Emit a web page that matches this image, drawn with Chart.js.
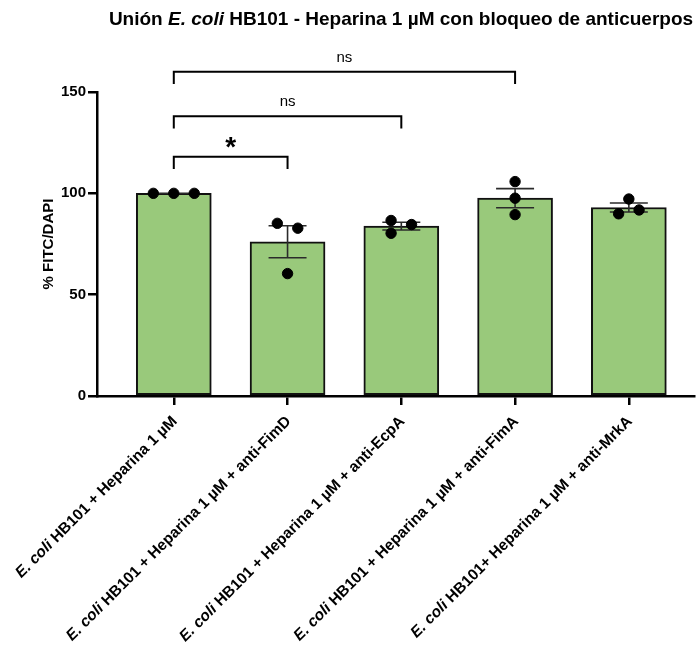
<!DOCTYPE html>
<html>
<head>
<meta charset="utf-8">
<script src="https://cdn.jsdelivr.net/npm/chart.js@4"></script>
<style>
  html, body { margin: 0; padding: 0; background: #fff; }
  #wrap { width: 700px; height: 651px; }
</style>
</head>
<body>
<div id="wrap"><canvas id="c" width="700" height="651"></canvas></div>
<script>
// Groups on the x axis
const categories = [
  "E. coli HB101 + Heparina 1 µM",
  "E. coli HB101 + Heparina 1 µM + anti-FimD",
  "E. coli HB101 + Heparina 1 µM + anti-EcpA",
  "E. coli HB101 + Heparina 1 µM + anti-FimA",
  "E. coli HB101+ Heparina 1 µM + anti-MrkA"
];
// Mean % FITC/DAPI per group and its SEM
const meanValues = [100, 76.1, 83.8, 97.6, 93.0];
const semValues = [0, 7.9, 1.9, 4.7, 2.2];
// Individual replicates per group
const replicates = [
  [100, 100, 100],
  [85.2, 82.8, 60.4],
  [86.6, 80.3, 84.6],
  [105.8, 97.6, 89.5],
  [97.2, 89.9, 91.8]
];
// Y axis tick values
const yTicks = [0, 50, 100, 150];
// Pairwise comparisons: [group A, group B, label]
const comparisons = [
  [0, 1, "*"],
  [0, 2, "ns"],
  [0, 3, "ns"]
];

// ---- layout / style settings ----
const FONT = "'Liberation Sans', Arial, Helvetica, sans-serif";
const BAR_GREEN = "#99c97b";
const dotSpread = [
  [-0.18, 0, 0.18],
  [-0.09, 0.09, 0],
  [-0.09, -0.09, 0.09],
  [0, 0, 0],
  [0, -0.09, 0.09]
];
const bracketLevels = [118, 138, 160];
const bracketDrop = 6;
const capHalf = 0.167;

const barData = meanValues.map((v, i) => ({ x: i, y: v }));
const dotData = [];
replicates.forEach((reps, i) => reps.forEach((v, j) => dotData.push({ x: i + dotSpread[i][j], y: v })));

function drawMixed(ctx, parts, x, y, align) {
  const widths = parts.map(p => { ctx.font = p.font; return ctx.measureText(p.text).width; });
  const total = widths.reduce((a, b) => a + b, 0);
  let cx = align === 'right' ? x - total : align === 'center' ? x - total / 2 : x;
  ctx.textAlign = 'left';
  parts.forEach((p, k) => { ctx.font = p.font; ctx.fillText(p.text, cx, y); cx += widths[k]; });
}

function splitItalic(label, size) {
  const key = "E. coli";
  if (label.startsWith(key)) {
    return [
      { text: key, font: `italic bold ${size}px ${FONT}` },
      { text: label.slice(key.length), font: `bold ${size}px ${FONT}` }
    ];
  }
  return [{ text: label, font: `bold ${size}px ${FONT}` }];
}

// Error bars drawn right after the bars (below the replicate dots)
const errorBarPlugin = {
  id: 'errorBars',
  afterDatasetDraw(chart, args) {
    if (args.index !== 1) return;
    const { ctx, scales: { x, y } } = chart;
    ctx.save();
    ctx.strokeStyle = '#2b2b2b';
    ctx.lineWidth = 1.6;
    meanValues.forEach((m, i) => {
      const hi = y.getPixelForValue(m + semValues[i]);
      const lo = y.getPixelForValue(m - semValues[i]);
      const cx = x.getPixelForValue(i);
      const l = x.getPixelForValue(i - capHalf);
      const r = x.getPixelForValue(i + capHalf);
      ctx.beginPath();
      ctx.moveTo(cx, hi); ctx.lineTo(cx, lo);
      ctx.moveTo(l, hi); ctx.lineTo(r, hi);
      ctx.moveTo(l, lo); ctx.lineTo(r, lo);
      ctx.stroke();
    });
    ctx.restore();
  }
};

// Title, rotated category labels and significance brackets
const decorPlugin = {
  id: 'decor',
  afterDraw(chart) {
    const { ctx, scales: { x, y }, chartArea } = chart;
    ctx.save();
    ctx.fillStyle = '#000';

    ctx.textBaseline = 'alphabetic';
    drawMixed(ctx, [
      { text: "Unión ", font: `bold 19px ${FONT}` },
      { text: "E. coli", font: `italic bold 19px ${FONT}` },
      { text: " HB101 - Heparina 1 µM con bloqueo de anticuerpos", font: `bold 19px ${FONT}` }
    ], 401, 25, 'center');

    categories.forEach((lab, i) => {
      const px = x.getPixelForValue(i);
      ctx.save();
      ctx.translate(px + 1, chartArea.bottom + 23);
      ctx.rotate(-Math.PI / 4);
      ctx.textBaseline = 'middle';
      drawMixed(ctx, splitItalic(lab, 15.5), 0, 0, 'right');
      ctx.restore();
    });

    ctx.strokeStyle = '#000';
    ctx.lineWidth = 2;
    comparisons.forEach(([a, b, txt], k) => {
      const lvl = bracketLevels[k];
      const yt = y.getPixelForValue(lvl);
      const yb = y.getPixelForValue(lvl - bracketDrop);
      const xa = x.getPixelForValue(a);
      const xb = x.getPixelForValue(b);
      ctx.beginPath();
      ctx.moveTo(xa, yb); ctx.lineTo(xa, yt); ctx.lineTo(xb, yt); ctx.lineTo(xb, yb);
      ctx.stroke();
      ctx.textAlign = 'center';
      ctx.textBaseline = 'alphabetic';
      const mid = (xa + xb) / 2;
      if (txt === '*') {
        ctx.font = `bold 28px ${FONT}`;
        ctx.fillText(txt, mid, yt - 1);
      } else {
        ctx.font = `15px ${FONT}`;
        ctx.fillText(txt, mid, yt - 10);
      }
    });
    ctx.restore();
  }
};

new Chart(document.getElementById('c'), {
  type: 'bar',
  data: {
    datasets: [
      {
        type: 'scatter',
        data: dotData,
        backgroundColor: '#000',
        borderColor: '#000',
        pointRadius: 5.2,
        pointHoverRadius: 5.2,
        order: 0
      },
      {
        type: 'bar',
        data: barData,
        backgroundColor: BAR_GREEN,
        borderColor: '#111',
        borderWidth: 2,
        borderSkipped: false,
        barThickness: 75,
        order: 1
      }
    ]
  },
  options: {
    responsive: false,
    animation: false,
    events: [],
    layout: { padding: { left: 36, right: 0, top: 92, bottom: 246 } },
    plugins: { legend: { display: false }, tooltip: { enabled: false }, title: { display: false } },
    scales: {
      x: {
        type: 'linear',
        offset: false,
        min: -0.675,
        max: 4.571,
        afterBuildTicks: axis => { axis.ticks = categories.map((_, i) => ({ value: i })); },
        ticks: { display: false },
        grid: { display: true, offset: false, drawOnChartArea: false, drawTicks: true, tickLength: 9, color: '#000', lineWidth: 2.5 },
        border: { display: true, color: '#000', width: 2.5 }
      },
      y: {
        min: 0,
        max: 150,
        afterBuildTicks: axis => { axis.ticks = yTicks.map(v => ({ value: v })); },
        afterFit: s => { s.width = 61; },
        ticks: { color: '#000', padding: 2, font: { family: FONT, size: 15, weight: 'bold' } },
        grid: { display: true, drawOnChartArea: false, drawTicks: true, tickLength: 9, color: '#000', lineWidth: 2.5 },
        border: { display: true, color: '#000', width: 2.5 },
        title: { display: true, text: '% FITC/DAPI', color: '#000', font: { family: FONT, size: 15, weight: 'bold' } }
      }
    }
  },
  plugins: [errorBarPlugin, decorPlugin]
});
</script>
</body>
</html>
